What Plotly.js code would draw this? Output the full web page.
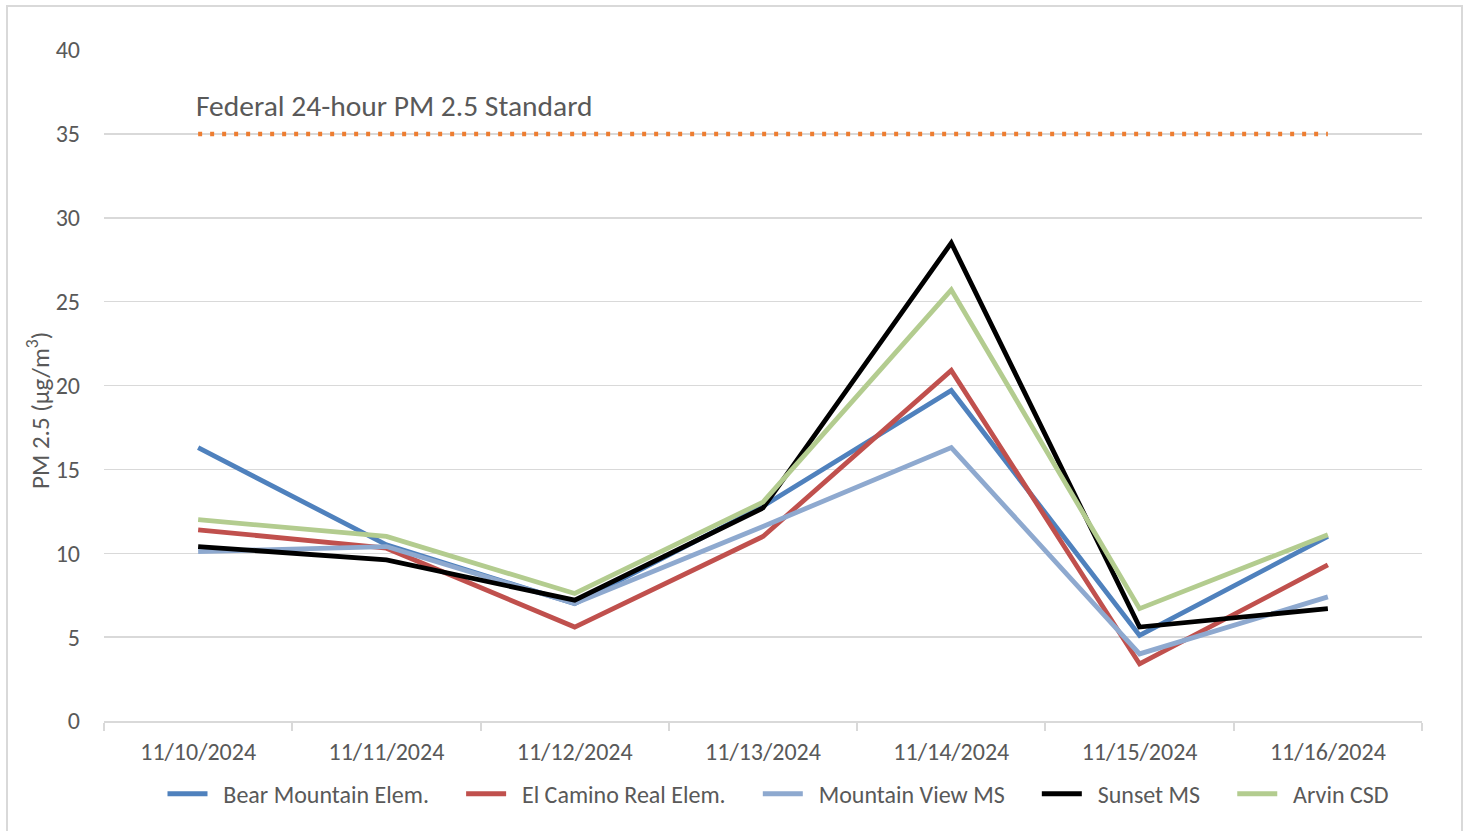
<!DOCTYPE html>
<html>
<head>
<meta charset="utf-8">
<script src="https://cdn.plot.ly/plotly-3.0.1.min.js"></script>
<style>
  html, body { margin: 0; padding: 0; background: #ffffff; }
  #chart { width: 1468px; height: 831px; }
</style>
</head>
<body>
<div id="chart"></div>
<script>
// ---- Data ----
const dates = ["11/10/2024", "11/11/2024", "11/12/2024", "11/13/2024", "11/14/2024", "11/15/2024", "11/16/2024"];

const bearMountain  = [16.3, 10.5, 7.0, 12.8, 19.7, 5.1, 11.0];
const elCaminoReal  = [11.4, 10.3, 5.6, 11.0, 20.9, 3.4, 9.3];
const mountainView  = [10.1, 10.4, 7.0, 11.6, 16.3, 4.0, 7.4];
const sunsetMS      = [10.4, 9.6, 7.2, 12.7, 28.5, 5.6, 6.7];
const arvinCSD      = [12.0, 11.0, 7.6, 13.05, 25.7, 6.7, 11.1];

const federalStandard = [35, 35, 35, 35, 35, 35, 35];
const standardLabel = "Federal 24-hour PM 2.5 Standard";
const yAxisTitle = "PM 2.5 (µg/m<sup>3</sup>)";

const seriesNames  = ["Bear Mountain Elem.", "El Camino Real Elem.", "Mountain View MS", "Sunset MS", "Arvin CSD"];
const seriesValues = [bearMountain, elCaminoReal, mountainView, sunsetMS, arvinCSD];
const seriesColors = ["#4F81BD", "#C0504D", "#8EA9CF", "#000000", "#B3CC8F"];

const yTicks = [0, 5, 10, 15, 20, 25, 30, 35, 40];

// ---- Traces ----
const FONT = "Carlito, Lato, 'Liberation Sans', sans-serif";
const NB = "\u00A0";
const traces = [];

traces.push({
  x: dates, y: federalStandard, type: "scatter", mode: "lines",
  name: standardLabel, showlegend: false, hoverinfo: "skip",
  line: { color: "#ED7D31", width: 4.5, dash: "4px,8px" }
});

seriesNames.forEach((n, i) => {
  traces.push({
    x: dates, y: seriesValues[i], type: "scatter", mode: "lines",
    name: NB + NB + n + NB + NB + NB + NB + NB,
    line: { color: seriesColors[i], width: 4.8 }
  });
});

const layout = {
  width: 1468, height: 831,
  margin: { l: 104, r: 46, t: 50, b: 110 },
  paper_bgcolor: "#ffffff", plot_bgcolor: "#ffffff",
  font: { family: FONT, color: "#595959", size: 24 },
  showlegend: true,
  legend: {
    orientation: "h", x: 0.522, xanchor: "center", y: -0.109, yanchor: "middle",
    font: { family: FONT, size: 24, color: "#595959" },
    traceorder: "normal", itemwidth: 40,
    bgcolor: "rgba(0,0,0,0)"
  },
  xaxis: {
    type: "category", categoryorder: "array", categoryarray: dates,
    range: [-0.5, dates.length - 0.5],
    showgrid: false, zeroline: false,
    showline: true, linecolor: "#D9D9D9", linewidth: 2,
    ticks: "outside", tickson: "boundaries", ticklen: 8, tickcolor: "#D9D9D9", tickwidth: 2,
    tickfont: { family: FONT, size: 24, color: "#595959" },
    ticklabelstandoff: 8,
    fixedrange: true
  },
  yaxis: {
    range: [0, 40], tickvals: yTicks, ticktext: yTicks.map(String),
    showgrid: true, gridcolor: "#D9D9D9", gridwidth: 1.5,
    zeroline: false, showline: false, ticks: "",
    tickfont: { family: FONT, size: 24, color: "#595959" },
    ticklabelstandoff: 23,
    fixedrange: true
  },
  annotations: [{
    xref: "x", yref: "y", x: dates[0], y: 35, xanchor: "left", yanchor: "bottom",
    xshift: -4, yshift: 8,
    text: standardLabel, showarrow: false,
    font: { family: FONT, size: 29.5, color: "#595959" }
  }, {
    xref: "paper", yref: "paper", x: (38 - 104) / 1318, y: (721 - 411) / 671,
    xanchor: "center", yanchor: "middle", textangle: -90,
    text: yAxisTitle, showarrow: false,
    font: { family: FONT, size: 25, color: "#595959" }
  }],
  shapes: [{
    type: "rect", xref: "paper", yref: "paper",
    x0: (7 - 104) / 1318, x1: (1462 - 104) / 1318,
    y0: (721 - 840) / 671, y1: (721 - 6) / 671,
    line: { color: "#D9D9D9", width: 2 }, fillcolor: "rgba(0,0,0,0)", layer: "below"
  }]
};

Plotly.newPlot("chart", traces, layout, { displayModeBar: false, staticPlot: true });
</script>
</body>
</html>
